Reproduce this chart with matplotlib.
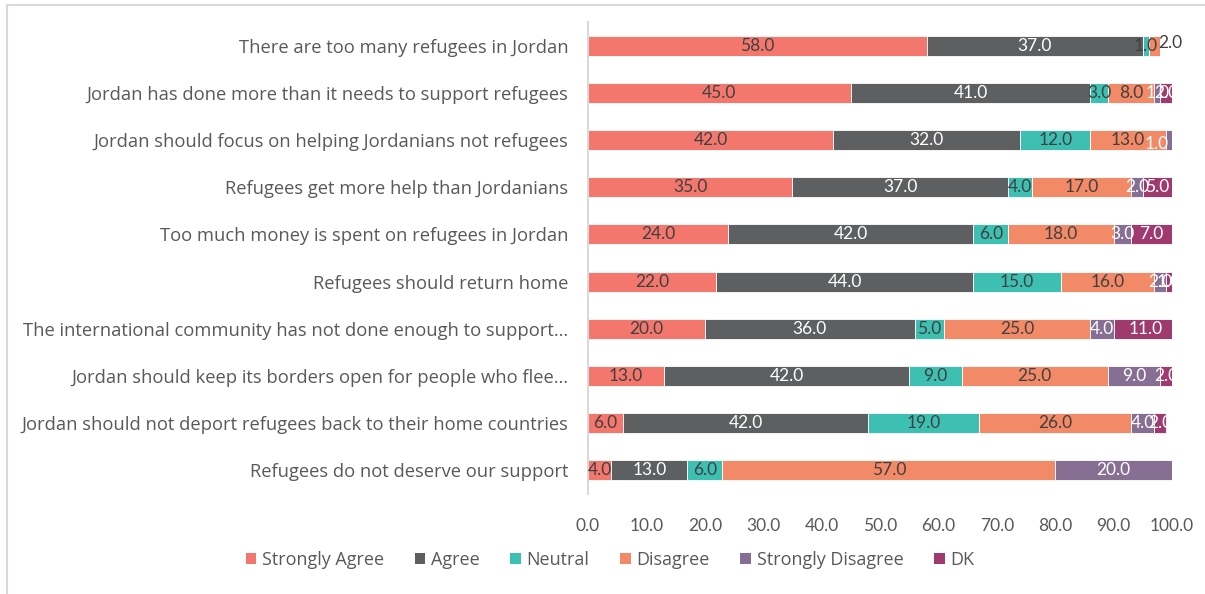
import numpy as np
import matplotlib.pyplot as plt
from matplotlib.patches import Patch, Rectangle

plt.rcParams["font.family"] = ["Lato", "DejaVu Sans"]

statements = [
    "There are too many refugees in Jordan",
    "Jordan has done more than it needs to support refugees",
    "Jordan should focus on helping Jordanians not refugees",
    "Refugees get more help than Jordanians",
    "Too much money is spent on refugees in Jordan",
    "Refugees should return home",
    "The international community has not done enough to support\u2026",
    "Jordan should keep its borders open for people who flee\u2026",
    "Jordan should not deport refugees back to their home countries",
    "Refugees do not deserve our support",
]

responses = ["Strongly Agree", "Agree", "Neutral", "Disagree", "Strongly Disagree", "DK"]

strongly_agree = [58, 45, 42, 35, 24, 22, 20, 13, 6, 4]
agree = [37, 41, 32, 37, 42, 44, 36, 42, 42, 13]
neutral = [1, 3, 12, 4, 6, 15, 5, 9, 19, 6]
disagree = [2, 8, 13, 17, 18, 16, 25, 25, 26, 57]
strongly_disagree = [0, 1, 1, 2, 3, 2, 4, 9, 4, 20]
dont_know = [0, 2, 0.3, 5, 7, 1, 11, 2, 2, 0.3]

colors = ["#F3776D", "#5E5F61", "#3DBFB2", "#F28A67", "#876E93", "#9F3A6E"]
label_colors = ["#404040", "white", "#404040", "#404040", "white", "white"]

# a couple of labels were dragged off their segment
label_shift = {(0, 3): (1.7, -0.05, "#404040"), (2, 4): (-2.6, 0.08, "white")}

series = [strongly_agree, agree, neutral, disagree, strongly_disagree, dont_know]
text_font = ["Open Sans", "DejaVu Sans"]

fig = plt.figure(figsize=(12.05, 5.94), dpi=100)
fig.patches.append(Rectangle((7 / 1205, -0.1), 1.1, 1.1 - 5 / 594,
                             transform=fig.transFigure, fill=False,
                             edgecolor="#D9D9D9", linewidth=1.5))
ax = fig.add_axes([588 / 1205, 1 - 494 / 594, 584 / 1205, 472 / 594])

y = np.arange(len(statements))
left = np.zeros(len(statements))
for j, (vals, name) in enumerate(zip(series, responses)):
    vals = np.array(vals, dtype=float)
    ax.barh(y, vals, left=left, height=0.42, color=colors[j],
            edgecolor="white", linewidth=0.6, label=name)
    for i, v in enumerate(vals):
        if v < 0.5:
            continue
        cx = left[i] + v / 2
        cy = y[i]
        col = label_colors[j]
        if (i, j) in label_shift:
            dx, dy, col = label_shift[(i, j)]
            cx = left[i] + v + dx
            cy = y[i] + dy
        ax.text(cx, cy, f"{v:.1f}", ha="center", va="center",
                color=col, fontsize=12.5, clip_on=(i, j) not in label_shift)
    left += vals

ax.set_xlim(0, 100)
ax.set_ylim(len(statements) - 0.5, -0.5)
ax.set_xticks(np.arange(0, 101, 10))
ax.set_xticklabels([f"{t:.1f}" for t in np.arange(0, 101, 10)])
ax.set_yticks(y)
ax.set_yticklabels(statements, family=text_font, fontsize=13.2)
ax.tick_params(axis="both", length=0, colors="#595959")
ax.tick_params(axis="x", pad=17, labelsize=12.5)
ax.tick_params(axis="y", pad=14)
for side in ["top", "right", "bottom"]:
    ax.spines[side].set_visible(False)
ax.spines["left"].set_color("#D9D9D9")
ax.spines["left"].set_linewidth(1.5)

handles = [Patch(facecolor=c, label=n) for c, n in zip(colors, responses)]
fig.legend(handles=handles, loc="center", ncol=6, frameon=False,
           bbox_to_anchor=(610 / 1205, 1 - 560 / 594),
           prop={"family": text_font, "size": 13},
           handlelength=0.6, handleheight=0.6, handletextpad=0.3,
           columnspacing=1.7, labelcolor="#595959")

fig.savefig("out.png", dpi=100)
